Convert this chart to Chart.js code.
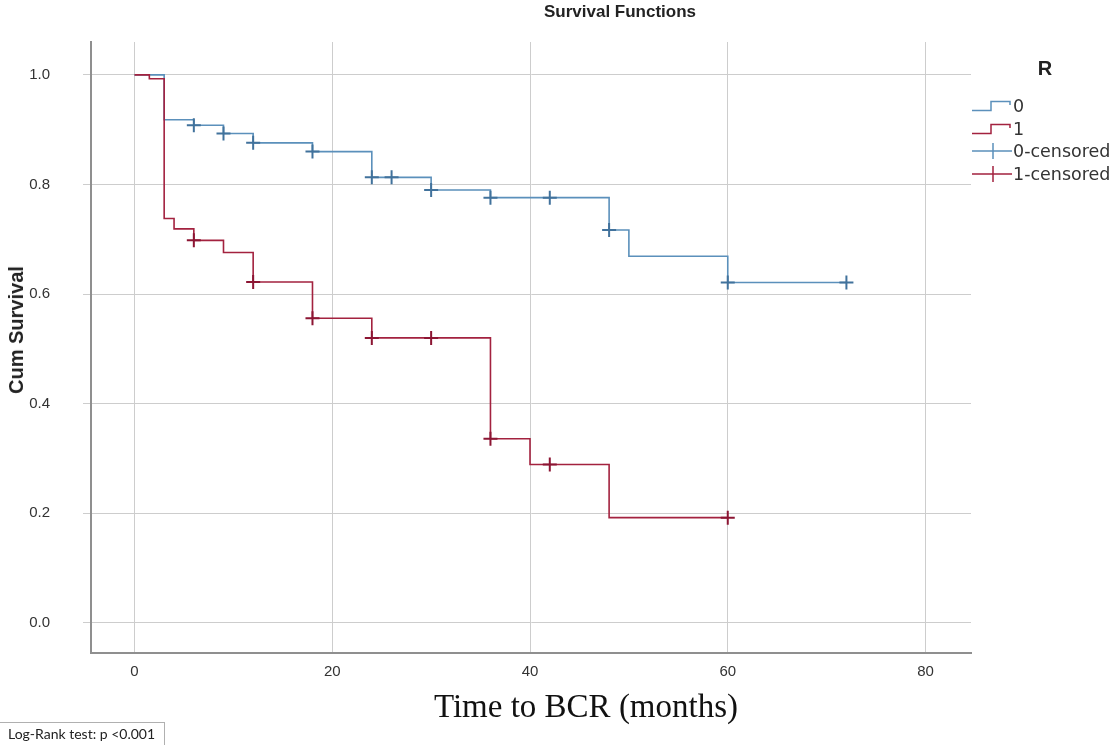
<!DOCTYPE html>
<html lang="en">
<head>
<meta charset="utf-8">
<title>Survival Functions</title>
<script src="https://cdn.jsdelivr.net/npm/chart.js@4.4.1/dist/chart.umd.min.js"></script>
<style>
  body { margin: 0; background: #fff; }
  #wrap { position: relative; width: 1118px; height: 745px; overflow: hidden; font-family: "Liberation Sans", Arial, sans-serif; color: #222; }
  #survChart { position: absolute; left: 0; top: 0; }
  .title { position: absolute; left: 620px; top: 12px; transform: translate(-50%, -50%); font-weight: bold; font-size: 17px; white-space: nowrap; }
  .ytitle { position: absolute; left: 16px; top: 330px; transform: translate(-50%, -50%) rotate(-90deg); font-weight: bold; font-size: 20px; line-height: 20px; white-space: nowrap; }
  .xtitle { position: absolute; left: 586px; top: 706px; transform: translate(-50%, -50%); font-family: "Liberation Serif", "Times New Roman", serif; font-size: 33px; color: #111; white-space: nowrap; }
  .logrank { position: absolute; left: 0; top: 722px; width: 156px; height: 30px; padding-left: 8px; border-top: 1px solid #b0b0b0; border-right: 1px solid #b0b0b0; font-family: Lato, "Open Sans", sans-serif; font-size: 14px; line-height: 22px; color: #222; white-space: nowrap; }
  .legend-title { position: absolute; left: 1045px; top: 68px; transform: translate(-50%, -50%); font-weight: bold; font-size: 20px; }
  .legend-item { position: absolute; left: 972px; height: 20px; display: flex; align-items: center; font-family: "DejaVu Sans", sans-serif; font-size: 17.5px; color: #333; white-space: nowrap; }
  .legend-item svg { width: 40px; height: 20px; margin-right: 1px; flex: none; }
</style>
</head>
<body>
<div id="wrap">
  <canvas id="survChart" width="1118" height="745"></canvas>
  <div class="title">Survival Functions</div>
  <div class="ytitle">Cum Survival</div>
  <div class="xtitle">Time to BCR (months)</div>
  <div class="logrank">Log-Rank test: p &lt;0.001</div>
  <div class="legend-title">R</div>
  <div id="legend"></div>
</div>
<script>
// Gruppe R = 0 (Zeit in Monaten, kumulatives Überleben)
const timesR0 = [0, 3, 6, 9, 12, 18, 24, 30, 36, 48, 50, 60, 72];
const survR0 = [1.0, 0.918, 0.908, 0.893, 0.876, 0.860, 0.813, 0.790, 0.776, 0.717, 0.669, 0.621, 0.621];
const censTimesR0 = [6, 9, 12, 18, 24, 26, 30, 36, 42, 48, 60, 72];
const censSurvR0 = [0.908, 0.893, 0.876, 0.860, 0.813, 0.813, 0.790, 0.776, 0.776, 0.717, 0.621, 0.621];

// Gruppe R = 1
const timesR1 = [0, 1.5, 3, 4, 6, 9, 12, 18, 24, 36, 40, 48, 60];
const survR1 = [1.0, 0.993, 0.738, 0.719, 0.698, 0.676, 0.622, 0.556, 0.520, 0.336, 0.289, 0.192, 0.192];
const censTimesR1 = [6, 12, 18, 24, 30, 36, 42, 60];
const censSurvR1 = [0.698, 0.622, 0.556, 0.520, 0.520, 0.336, 0.289, 0.192];

// Achsen & Legende
const xTicks = [0, 20, 40, 60, 80];
const yTicks = [0, 0.2, 0.4, 0.6, 0.8, 1.0];
const legendLabels = ['0', '1', '0-censored', '1-censored'];

const blue = '#5b90bb';
const blueDark = '#41729c';
const red = '#a3223f';
const redDark = '#8c1533';

const toPoints = (xs, ys) => xs.map((x, i) => ({ x: x, y: ys[i] }));

const lineDefaults = { showLine: true, stepped: 'before', pointRadius: 0, borderWidth: 1.6, fill: false };
const censDefaults = { showLine: false, pointStyle: 'cross', pointRadius: 7, borderWidth: 2 };

new Chart(document.getElementById('survChart'), {
  type: 'scatter',
  data: {
    datasets: [
      { ...censDefaults, label: legendLabels[3], data: toPoints(censTimesR1, censSurvR1), borderColor: redDark },
      { ...lineDefaults, label: legendLabels[1], data: toPoints(timesR1, survR1), borderColor: red },
      { ...censDefaults, label: legendLabels[2], data: toPoints(censTimesR0, censSurvR0), borderColor: blueDark },
      { ...lineDefaults, label: legendLabels[0], data: toPoints(timesR0, survR0), borderColor: blue }
    ]
  },
  options: {
    responsive: false,
    animation: false,
    events: [],
    layout: { padding: { top: 41, right: 147, left: 0, bottom: 0 } },
    plugins: { legend: { display: false }, tooltip: { enabled: false } },
    scales: {
      x: {
        type: 'linear',
        min: -4.4,
        max: 84.6,
        afterBuildTicks: s => { s.ticks = xTicks.map(v => ({ value: v })); },
        afterFit: s => { s.height = 92; },
        grid: { color: '#cdcdcd', drawTicks: false },
        border: { display: true, color: '#8f8f8f', width: 2 },
        ticks: { padding: 10, color: '#333', font: { family: 'Liberation Sans', size: 15 } }
      },
      y: {
        type: 'linear',
        min: -0.055,
        max: 1.06,
        afterBuildTicks: s => { s.ticks = yTicks.map(v => ({ value: v })); },
        afterFit: s => { s.width = 91; },
        grid: { color: '#cdcdcd', drawTicks: true, tickLength: 8 },
        border: { display: true, color: '#8f8f8f', width: 2 },
        ticks: { padding: 33, color: '#333', font: { family: 'Liberation Sans', size: 15 }, callback: v => v.toFixed(1) }
      }
    }
  }
});

// Legende mit kleinen Symbolen
const legendIcons = [
  `<svg viewBox="0 0 40 20"><path d="M0 14.5H19V5.5H38V9" fill="none" stroke="${blue}" stroke-width="1.5"/></svg>`,
  `<svg viewBox="0 0 40 20"><path d="M0 14.5H19V5.5H38V9" fill="none" stroke="${red}" stroke-width="1.5"/></svg>`,
  `<svg viewBox="0 0 40 20"><path d="M0 10H40M21 2V18" fill="none" stroke="${blue}" stroke-width="1.5"/></svg>`,
  `<svg viewBox="0 0 40 20"><path d="M0 10H40M21 2V18" fill="none" stroke="${red}" stroke-width="1.5"/></svg>`
];
const legendRows = [106, 129, 151, 174];
const legendEl = document.getElementById('legend');
legendLabels.forEach((txt, i) => {
  const item = document.createElement('div');
  item.className = 'legend-item';
  item.style.top = (legendRows[i] - 10) + 'px';
  item.innerHTML = legendIcons[i] + '<span>' + txt + '</span>';
  legendEl.appendChild(item);
});
</script>
</body>
</html>
